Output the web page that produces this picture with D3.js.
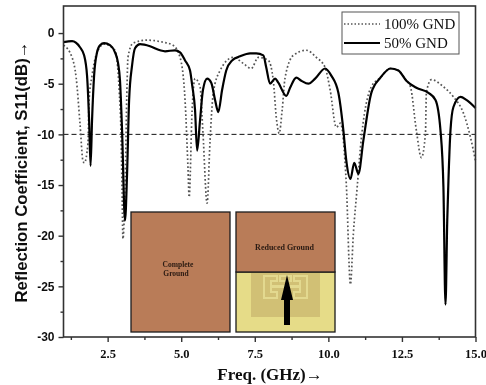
<!DOCTYPE html>
<html>
<head>
<meta charset="utf-8">
<script src="https://cdn.jsdelivr.net/npm/d3@7"></script>
<style>
  html, body { margin: 0; padding: 0; background: #fff; }
</style>
</head>
<body>
<div id="chart"></div>
<script>
const solidFreq = [1.0,1.29,1.56,1.70,1.80,1.87,1.92,1.97,2.04,2.14,2.24,2.38,2.58,2.75,2.85,2.92,2.99,3.09,3.16,3.23,3.33,3.43,3.60,3.94,4.28,4.45,4.79,4.96,5.13,5.30,5.37,5.47,5.54,5.64,5.74,5.88,6.02,6.15,6.26,6.39,6.53,6.73,7.00,7.34,7.55,7.79,7.89,8.02,8.19,8.30,8.57,8.70,8.91,9.08,9.32,9.55,9.89,10.10,10.34,10.51,10.61,10.75,10.88,11.02,11.19,11.46,11.77,12.11,12.38,12.65,12.99,13.40,13.64,13.81,13.91,13.98,14.04,14.08,14.15,14.25,14.49,14.69,15.0];
const solidS11 = [-0.9,-0.8,-1.4,-2.2,-4.2,-8.6,-13.1,-8.6,-4.2,-1.9,-1.2,-1.0,-1.2,-1.9,-2.9,-4.7,-9.6,-18.5,-13.9,-6.6,-3.2,-1.5,-1.1,-1.3,-1.7,-1.8,-1.7,-1.9,-2.7,-3.7,-5.1,-7.6,-11.6,-8.6,-5.6,-4.5,-4.9,-6.6,-7.8,-5.6,-3.7,-2.7,-2.3,-2.0,-2.0,-2.2,-3.4,-5.0,-4.5,-4.9,-6.2,-5.4,-4.4,-4.7,-5.0,-4.5,-3.5,-4.2,-5.9,-9.6,-12.6,-14.4,-12.8,-13.9,-10.6,-5.9,-4.4,-3.5,-3.7,-4.7,-5.4,-5.9,-6.6,-9.6,-15.2,-26.8,-18.5,-14.6,-9.6,-7.3,-6.3,-6.6,-7.4];

const dotFreq = [1.0,1.29,1.43,1.56,1.66,1.71,1.83,1.87,1.97,2.14,2.38,2.75,2.89,2.96,2.99,3.02,3.09,3.16,3.19,3.36,3.84,4.38,4.72,4.96,5.13,5.23,5.27,5.37,5.47,5.64,5.74,5.88,5.98,6.09,6.32,6.77,7.11,7.38,7.62,7.96,8.13,8.23,8.33,8.43,8.53,8.81,9.25,9.59,9.89,10.06,10.27,10.41,10.61,10.75,10.85,10.98,11.09,11.46,11.77,12.11,12.38,12.65,12.79,12.99,13.16,13.30,13.33,13.50,13.91,14.25,14.59,14.83,15.0];
const dotS11 = [-1.2,-2.4,-4.4,-8.9,-12.6,-12.8,-10.9,-6.6,-4.2,-1.9,-1.1,-1.7,-5.6,-10.6,-15.5,-20.3,-15.5,-5.0,-2.4,-1.0,-0.7,-0.9,-1.2,-2.4,-6.6,-13.3,-16.2,-7.6,-4.5,-5.3,-9.9,-16.8,-10.6,-5.9,-3.7,-2.4,-3.0,-3.5,-2.4,-2.7,-4.7,-8.3,-9.9,-7.6,-4.4,-2.2,-1.7,-2.4,-3.4,-5.6,-9.3,-8.9,-14.9,-24.8,-19.8,-15.2,-11.3,-5.3,-4.4,-3.5,-3.7,-4.7,-5.3,-9.6,-12.3,-9.9,-5.9,-4.6,-5.3,-6.3,-7.9,-10.3,-12.6];

const xMajor = [2.5,5,7.5,10,12.5,15];
const xMinor = [1.25,3.75,6.25,8.75,11.25,13.75];
const yMajor = [0,-5,-10,-15,-20,-25,-30];
const yMinor = [-2.5,-7.5,-12.5,-17.5,-22.5,-27.5];
const threshold = -10;
const legendNames = ["100% GND","50% GND"];

const dimensions = { width: 486, height: 385, left: 63.5, right: 475.5, top: 6, bottom: 337 };

const svg = d3.select("#chart").append("svg")
  .attr("width", dimensions.width)
  .attr("height", dimensions.height)
  .style("display", "block");

// the source is a soft scan, so everything gets a light blur
svg.append("defs").append("filter").attr("id", "soft")
  .attr("x", 0).attr("y", 0).attr("width", 1).attr("height", 1)
  .attr("filterUnits", "objectBoundingBox")
  .append("feGaussianBlur").attr("stdDeviation", 0.4);

const root = svg.append("g").attr("filter", "url(#soft)");
root.append("rect").attr("width", dimensions.width).attr("height", dimensions.height).attr("fill", "#fff");

const xScale = d3.scaleLinear().domain([1, 15]).range([dimensions.left, dimensions.right]);
const yScale = d3.scaleLinear().domain([2.67, -30]).range([dimensions.top, dimensions.bottom]);

const toPoints = (xs, ys) => xs.map((x, i) => [x, ys[i]]);
const lineGen = d3.line().x(d => xScale(d[0])).y(d => yScale(d[1])).curve(d3.curveMonotoneX);

// threshold line
root.append("line")
  .attr("x1", xScale.range()[0]).attr("x2", xScale.range()[1])
  .attr("y1", yScale(threshold)).attr("y2", yScale(threshold))
  .attr("stroke", "#111").attr("stroke-width", 1).attr("stroke-dasharray", "5,3");

// curves
root.append("path")
  .attr("d", lineGen(toPoints(dotFreq, dotS11)))
  .attr("fill", "none").attr("stroke", "#555").attr("stroke-width", 1.7)
  .attr("stroke-dasharray", "1.7,2.3");
root.append("path")
  .attr("d", lineGen(toPoints(solidFreq, solidS11)))
  .attr("fill", "none").attr("stroke", "#000").attr("stroke-width", 2.2);

// inset, complete ground
const inset = root.append("g");
inset.append("rect").attr("x", 131).attr("y", 212).attr("width", 99).attr("height", 120)
  .attr("fill", "#b97c58").attr("stroke", "#1c1c1c").attr("stroke-width", 1.3);
inset.append("text").attr("x", 178).attr("y", 267).attr("text-anchor", "middle")
  .style("font", "bold 7.5px 'Liberation Serif'").attr("fill", "#2a1a12").text("Complete");
inset.append("text").attr("x", 176).attr("y", 276).attr("text-anchor", "middle")
  .style("font", "bold 7.5px 'Liberation Serif'").attr("fill", "#2a1a12").text("Ground");

// inset, reduced ground
inset.append("rect").attr("x", 236).attr("y", 272).attr("width", 99).attr("height", 60)
  .attr("fill", "#e6dc88").attr("stroke", "#1c1c1c").attr("stroke-width", 1.3);
inset.append("rect").attr("x", 251).attr("y", 273).attr("width", 69).attr("height", 44)
  .attr("fill", "#d1c074");
inset.append("rect").attr("x", 236).attr("y", 212).attr("width", 99).attr("height", 60)
  .attr("fill", "#b97c58").attr("stroke", "#1c1c1c").attr("stroke-width", 1.3);
inset.append("text").attr("x", 284.5).attr("y", 249.5).attr("text-anchor", "middle")
  .style("font", "bold 8px 'Liberation Serif'").attr("fill", "#2a1a12").text("Reduced Ground");
inset.append("path")
  .attr("d", "M264,276H277V281H271V286H300V281H294V276H307V298H294V292H300V287H271V292H277V298H264ZM280,276H291V281H280Z")
  .attr("fill", "none").attr("stroke", "#e3d98f").attr("stroke-width", 2);
inset.append("path")
  .attr("d", "M284,325V300H281L287,275L293,300H290V325Z")
  .attr("fill", "#000");

// frame
root.append("rect")
  .attr("x", dimensions.left).attr("y", dimensions.top)
  .attr("width", dimensions.right - dimensions.left)
  .attr("height", dimensions.bottom - dimensions.top)
  .attr("fill", "none").attr("stroke", "#333").attr("stroke-width", 1.6);

// axes
const xAxis = root.append("g").attr("transform", `translate(0,${dimensions.bottom})`);
xAxis.call(d3.axisBottom(xScale).tickValues(xMajor).tickFormat(d3.format(".1f")).tickSize(5).tickPadding(7));
xAxis.selectAll("text").style("font", "bold 12.5px 'Liberation Serif'").attr("fill", "#111");
const xAxisMinor = root.append("g").attr("transform", `translate(0,${dimensions.bottom})`);
xAxisMinor.call(d3.axisBottom(xScale).tickValues(xMinor).tickFormat("").tickSize(3));

const yAxis = root.append("g").attr("transform", `translate(${dimensions.left},0)`);
yAxis.call(d3.axisLeft(yScale).tickValues(yMajor).tickFormat(d => d3.format("d")(d).replace("\u2212", "-")).tickSize(5).tickPadding(4));
yAxis.selectAll("text").style("font", "bold 12px 'Liberation Sans'").attr("fill", "#111");
const yAxisMinor = root.append("g").attr("transform", `translate(${dimensions.left},0)`);
yAxisMinor.call(d3.axisLeft(yScale).tickValues(yMinor).tickFormat("").tickSize(3));

root.selectAll(".domain").remove();
root.selectAll(".tick line").attr("stroke", "#333").attr("stroke-width", 1.4);

// axis titles
root.append("text")
  .attr("x", 270).attr("y", 380).attr("text-anchor", "middle")
  .style("font", "bold 17px 'Liberation Serif'").attr("fill", "#111")
  .text("Freq. (GHz)\u2192");
root.append("text")
  .attr("transform", "translate(27,172) rotate(-90)").attr("text-anchor", "middle")
  .style("font", "bold 16.8px 'Liberation Sans'").attr("fill", "#111")
  .text("Reflection Coefficient, S11(dB)\u2192");

// legend
const legend = root.append("g");
legend.append("rect").attr("x", 342).attr("y", 12).attr("width", 117).attr("height", 42)
  .attr("fill", "#fff").attr("stroke", "#555").attr("stroke-width", 1);
legendNames.forEach((name, i) => {
  const rowY = 24 + i * 19;
  legend.append("line").attr("x1", 344).attr("x2", 380).attr("y1", rowY).attr("y2", rowY)
    .attr("stroke", i === 0 ? "#555" : "#000")
    .attr("stroke-width", i === 0 ? 1.4 : 2)
    .attr("stroke-dasharray", i === 0 ? "1.5,2" : null);
  legend.append("text").attr("x", 384).attr("y", rowY + 5)
    .style("font", "15px 'Liberation Serif'").attr("fill", "#111").text(name);
});
</script>
</body>
</html>
